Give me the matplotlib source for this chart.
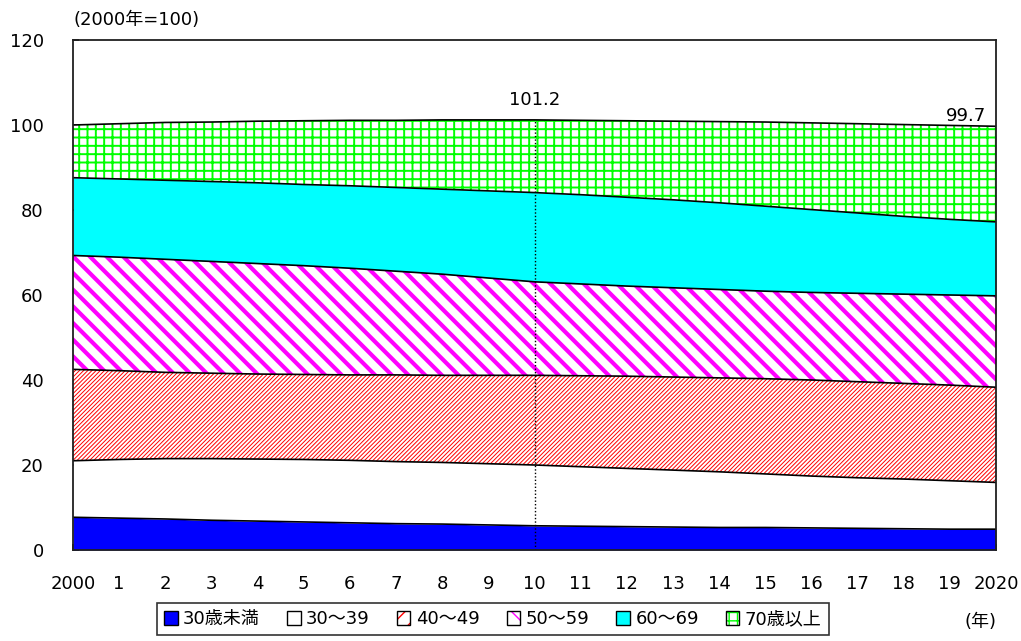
import numpy as np
import matplotlib
matplotlib.use("Agg")
import matplotlib.pyplot as plt
from matplotlib.patches import Patch
from matplotlib.legend_handler import HandlerTuple

# digits in DejaVu, kanji fall through to the CJK family
plt.rcParams['font.family'] = ['DejaVu Sans', 'Noto Sans CJK JP']

# ---- data (index, 2000 total = 100) ----
years = np.arange(2000, 2021)
tick_labels = ["2000"] + [str(i) for i in range(1, 20)] + ["2020"]

under30 = [7.7, 7.5, 7.3, 7.0, 6.8, 6.6, 6.4, 6.2, 6.1, 5.9, 5.7,
           5.6, 5.5, 5.4, 5.3, 5.3, 5.2, 5.1, 5.0, 4.9, 4.9]
age30s = [13.3, 13.8, 14.2, 14.5, 14.6, 14.7, 14.7, 14.6, 14.5, 14.4, 14.3,
          14.0, 13.7, 13.4, 13.1, 12.6, 12.2, 11.9, 11.7, 11.4, 11.0]
age40s = [21.5, 20.9, 20.3, 20.1, 20.0, 20.0, 20.1, 20.4, 20.5, 20.8, 21.1,
          21.4, 21.7, 21.9, 22.1, 22.4, 22.6, 22.6, 22.5, 22.5, 22.4]
age50s = [26.8, 26.7, 26.6, 26.3, 26.0, 25.6, 25.1, 24.4, 23.8, 22.9, 22.0,
          21.6, 21.2, 21.0, 20.8, 20.6, 20.6, 20.8, 21.0, 21.2, 21.5]
age60s = [18.3, 18.4, 18.6, 18.8, 19.0, 19.1, 19.4, 19.7, 20.0, 20.5, 21.0,
          21.0, 20.9, 20.7, 20.4, 20.0, 19.5, 18.9, 18.3, 17.8, 17.4]
over70 = [12.4, 13.0, 13.6, 14.0, 14.5, 15.0, 15.4, 15.8, 16.3, 16.7, 17.1,
          17.5, 18.0, 18.5, 19.1, 19.8, 20.4, 21.0, 21.6, 22.1, 22.5]

labels = ["30歳未満", "30～39", "40～49", "50～59", "60～69", "70歳以上"]
series = [under30, age30s, age40s, age50s, age60s, over70]

# face colour, hatch, hatch colour, hatch linewidth
styles = [
    ("#0000FF", None, "#0000FF", 1.0),
    ("white", None, "white", 1.0),
    ("white", "////////", "#FF0000", 0.7),
    ("white", "\\\\", "#FF00FF", 3.0),
    ("#00FFFF", None, "#00FFFF", 1.0),
    ("white", "++", "#00FF00", 1.4),
]

fig = plt.figure(figsize=(10.21, 6.41), dpi=100)
ax = fig.add_axes([73/1021, 1-550/641, (996-73)/1021, 510/641])

cum = np.cumsum(np.array(series, dtype=float), axis=0)
lower = np.zeros(len(years))
handles = []
for vals, (fc, hatch, hc, hlw), lab in zip(cum, styles, labels):
    plt.rcParams['hatch.linewidth'] = hlw
    poly = ax.fill_between(years, lower, vals, facecolor=fc, edgecolor=hc,
                           linewidth=0, hatch=hatch, zorder=2)
    if hasattr(poly, "set_hatch_linewidth"):
        poly.set_hatch_linewidth(hlw)
    ax.plot(years, vals, color="black", lw=1.2, zorder=3)

    # legend key: sparser hatch so it still reads at small size
    if hatch == "////////":
        key_hatch = "//"
    elif hatch == "\\\\":
        key_hatch = "\\"
    else:
        key_hatch = hatch
    h = Patch(facecolor=fc, edgecolor=hc, hatch=key_hatch, linewidth=0)
    if hasattr(h, "set_hatch_linewidth"):
        h.set_hatch_linewidth(2.5 if hatch == "\\\\" else min(hlw, 1.5))
    border = Patch(facecolor="none", edgecolor="black", linewidth=1.0)
    handles.append((h, border))
    lower = vals

total = cum[-1]
plt.rcParams['hatch.linewidth'] = 1.0

# 2010 marker line and value labels
i10 = list(years).index(2010)
ax.vlines(2010, 0, total[i10], colors="black", linestyles=(0, (1, 1.5)),
          lw=1.0, zorder=4)
ax.text(2010, total[i10] + 4.8, f"{total[i10]:.1f}", ha="center", va="center",
        fontsize=13)
ax.text(2019.35, total[-1] + 2.4, f"{total[-1]:.1f}", ha="center", va="center",
        fontsize=13)

ax.set_xlim(2000, 2020)
ax.set_ylim(0, 120)
ax.set_yticks(range(0, 121, 20))
ax.set_xticks(years)
ax.set_xticklabels(tick_labels)
ax.tick_params(axis="both", direction="in", labelsize=13, length=4,
               width=1.2, colors="black")
ax.tick_params(axis="y", pad=21)
ax.tick_params(axis="x", pad=18)
for sp in ax.spines.values():
    sp.set_linewidth(1.3)
    sp.set_color("#202020")
    sp.set_zorder(5)

fig.text(73/1021, 1-20/641, "(2000年=100)", ha="left", va="center", fontsize=13)
fig.text(980/1021, 1-622/641, "(年)", ha="center", va="center", fontsize=13)

leg = fig.legend(handles, labels, loc="upper left",
                 bbox_to_anchor=(157/1021, 1-603/641), ncol=6, fontsize=13,
                 frameon=True, fancybox=False, edgecolor="black",
                 handlelength=0.75, handleheight=0.75, handletextpad=0.3,
                 columnspacing=1.5, borderaxespad=0, borderpad=0.4,
                 handler_map={tuple: HandlerTuple(ndivide=1, pad=0)})
leg.get_frame().set_linewidth(1.2)

fig.savefig("out.png", dpi=100, facecolor="white")
